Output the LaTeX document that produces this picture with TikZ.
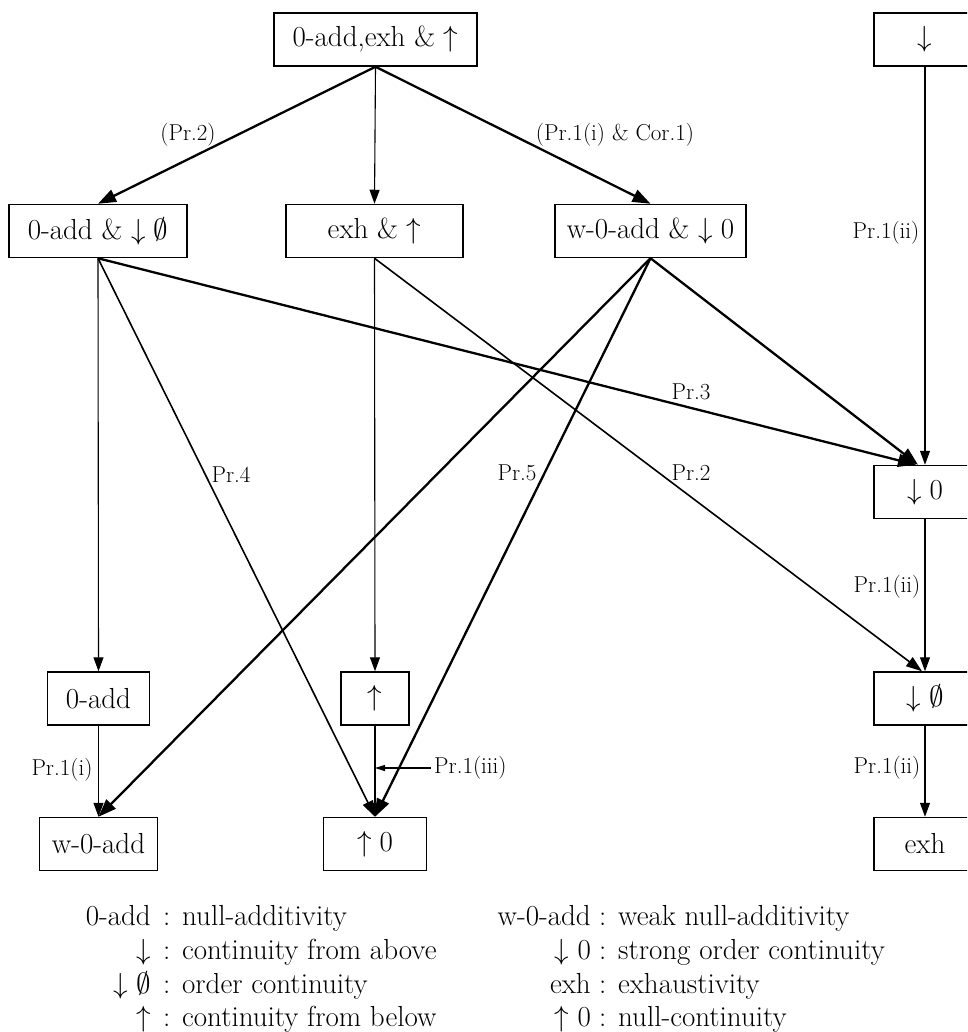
\RequirePackage{fix-cm}
\documentclass[tikz,border=0pt]{standalone}
\usetikzlibrary{arrows.meta}
\begin{document}
\begin{tikzpicture}[x=1pt,y=-1pt,
  box/.style={draw, line width=1.5pt, minimum height=53pt, inner sep=0pt, font=\fontsize{29}{34}\selectfont},
  thinar/.style={line width=1.1pt, -{Triangle[length=14pt,width=10pt]}},
  midar/.style={line width=1.6pt, -{Triangle[length=16pt,width=11pt]}},
  thickar/.style={line width=2.3pt, -{Triangle[length=18pt,width=13pt]}},
  lab/.style={font=\fontsize{23}{27}\selectfont, inner sep=0pt},
  leg/.style={font=\fontsize{29}{34}\selectfont, inner sep=0pt}]
\useasboundingbox (0,0) rectangle (967,1032);
\clip (0,0) rectangle (967,1032);

% boxes
\node[box, minimum width=203pt] (top) at (375.5,39.5) {0-add,exh \& $\uparrow$};
\node[box, minimum width=102pt] (dn) at (925,39.5) {$\downarrow$};
\node[box, minimum width=178pt] (addo) at (98,231) {0-add \& $\downarrow\emptyset$};
\node[box, minimum width=177pt] (exhup) at (374.5,231) {exh \& $\uparrow$};
\node[box, minimum width=191pt] (wadd0) at (650.5,231) {w-0-add \& $\downarrow 0$};
\node[box, minimum width=102pt] (d0) at (925,492) {$\downarrow 0$};
\node[box, minimum width=102pt] (add) at (98.5,698.5) {0-add};
\node[box, minimum width=68pt] (up) at (375,698.5) {$\uparrow$};
\node[box, minimum width=102pt] (dempty) at (925,698.5) {$\downarrow\emptyset$};
\node[box, minimum width=118pt] (wadd) at (98.5,844) {w-0-add};
\node[box, minimum width=103pt] (up0) at (375,844) {$\uparrow 0$};
\node[box, minimum width=102pt] (exh) at (925,844) {exh};

% connectors
\draw[thickar] (top.south) -- (addo.north);
\draw[thinar] (top.south) -- (exhup.north);
\draw[thickar] (top.south) -- (wadd0.north);
\draw[thinar] (dn.south) -- (d0.north);
\draw[thinar] (addo.south) -- (add.north);
\draw[midar] (addo.south) -- (up0.north);
\draw[thickar] (addo.south) -- ([xshift=-9pt]d0.north);
\draw[thinar] (exhup.south) -- (up.north);
\draw[midar] (exhup.south) -- ([xshift=-3pt]dempty.north);
\draw[thickar] (wadd0.south) -- (wadd.north);
\draw[thickar] (wadd0.south) -- (up0.north);
\draw[thickar] (wadd0.south) -- ([xshift=-7pt]d0.north);
\draw[thinar] (d0.south) -- (dempty.north);
\draw[thinar] (dempty.south) -- (exh.north);
\draw[thinar] (add.south) -- (wadd.north);
\draw[thinar] (up.south) -- (up0.north);

% Pr.1(iii) pointer
\coordinate (p3) at (431,768);
\draw[line width=1.1pt, -{Triangle[length=10pt,width=6pt]}] (p3) -- (p3 -| up.south);
\node[lab, anchor=west] (l9) at (434,768) {Pr.1(iii)};

% labels
\node[lab] (l1) at (188,135) {(Pr.2)};
\node[lab] (l2) at (615,135) {(Pr.1(i) \& Cor.1)};
\node[lab] (l3) at (886,233) {Pr.1(ii)};
\node[lab] (l4) at (691,392) {Pr.3};
\node[lab] (l5) at (231,475) {Pr.4};
\node[lab] (l6) at (517,473) {Pr.5};
\node[lab] (l7) at (691,473) {Pr.2};
\node[lab] (l8) at (887,587) {Pr.1(ii)};
\node[lab] (l10) at (887,768) {Pr.1(ii)};
\node[lab] (l11) at (62,770) {Pr.1(i)};

% legend left
\node[leg, anchor=base east] (la1) at (151,925) {0-add};
\node[leg, anchor=base west] (lb1) at (163,925) {: null-additivity};
\node[leg, anchor=base east] (la2) at (151,959) {$\downarrow$};
\node[leg, anchor=base west] (lb2) at (163,959) {: continuity from above};
\node[leg, anchor=base east] (la3) at (151,993) {$\downarrow\emptyset$};
\node[leg, anchor=base west] (lb3) at (163,993) {: order continuity};
\node[leg, anchor=base east] (la4) at (151,1026) {$\uparrow$};
\node[leg, anchor=base west] (lb4) at (163,1026) {: continuity from below};
% legend right
\node[leg, anchor=base east] (ra1) at (591,925) {w-0-add};
\node[leg, anchor=base west] (rb1) at (599,925) {: weak null-additivity};
\node[leg, anchor=base east] (ra2) at (591,959) {$\downarrow 0$};
\node[leg, anchor=base west] (rb2) at (599,959) {: strong order continuity};
\node[leg, anchor=base east] (ra3) at (591,993) {exh};
\node[leg, anchor=base west] (rb3) at (599,993) {: exhaustivity};
\node[leg, anchor=base east] (ra4) at (591,1026) {$\uparrow 0$};
\node[leg, anchor=base west] (rb4) at (599,1026) {: null-continuity};
\end{tikzpicture}
\end{document}
